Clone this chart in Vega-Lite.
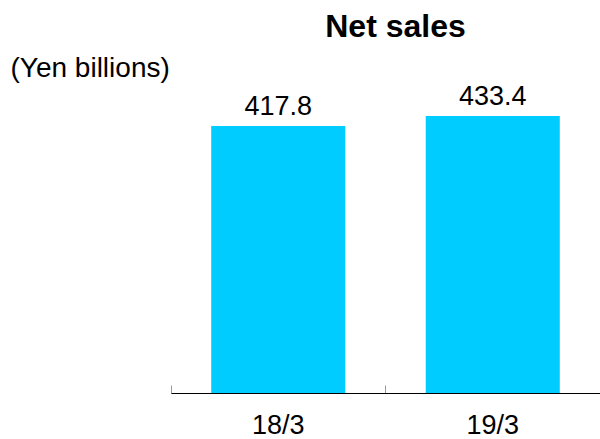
{
  "$schema": "https://vega.github.io/schema/vega-lite/v6.json",
  "autosize": {"type": "none"},
  "width": 429,
  "height": 333,
  "padding": {"left": 171, "top": 60, "right": 0, "bottom": 46},
  "background": "white",
  "config": {"view": {"stroke": null}, "font": "Liberation Sans"},
  "title": {
    "text": "Net sales",
    "font": "Liberation Sans",
    "fontSize": 32,
    "fontWeight": "bold",
    "color": "black",
    "anchor": "middle",
    "frame": "group",
    "baseline": "alphabetic",
    "offset": 0,
    "dx": 10,
    "dy": 15
  },
  "data": {
    "values": [
      {"period": "18/3", "sales": 417.8},
      {"period": "19/3", "sales": 433.4}
    ]
  },
  "encoding": {
    "x": {
      "field": "period",
      "type": "nominal",
      "sort": null,
      "scale": {"padding": 0},
      "axis": {
        "title": null,
        "labelAngle": 0,
        "labelFontSize": 27,
        "labelColor": "black",
        "labelFont": "Liberation Sans",
        "labelPadding": 27,
        "domainColor": "black",
        "domainWidth": 1.2,
        "tickColor": "#999999",
        "tickSize": -8,
        "tickWidth": 1,
        "bandPosition": 0
      }
    },
    "y": {
      "field": "sales",
      "type": "quantitative",
      "scale": {"domain": [0, 521]},
      "axis": {
        "title": "(Yen billions)",
        "titleAngle": 0,
        "titleAlign": "left",
        "titleBaseline": "alphabetic",
        "titleX": -161,
        "titleY": 16,
        "titleFontSize": 28,
        "titleFontWeight": "normal",
        "titleColor": "black",
        "titleFont": "Liberation Sans",
        "labels": false,
        "ticks": false,
        "domain": false,
        "grid": false
      }
    }
  },
  "layer": [
    {"mark": {"type": "bar", "color": "#00CCFF", "width": {"band": 0.625}}},
    {
      "mark": {"type": "text", "baseline": "alphabetic", "dy": -11, "fontSize": 27, "color": "black", "font": "Liberation Sans"},
      "encoding": {"text": {"field": "sales", "type": "quantitative", "format": ".1f"}}
    }
  ]
}
